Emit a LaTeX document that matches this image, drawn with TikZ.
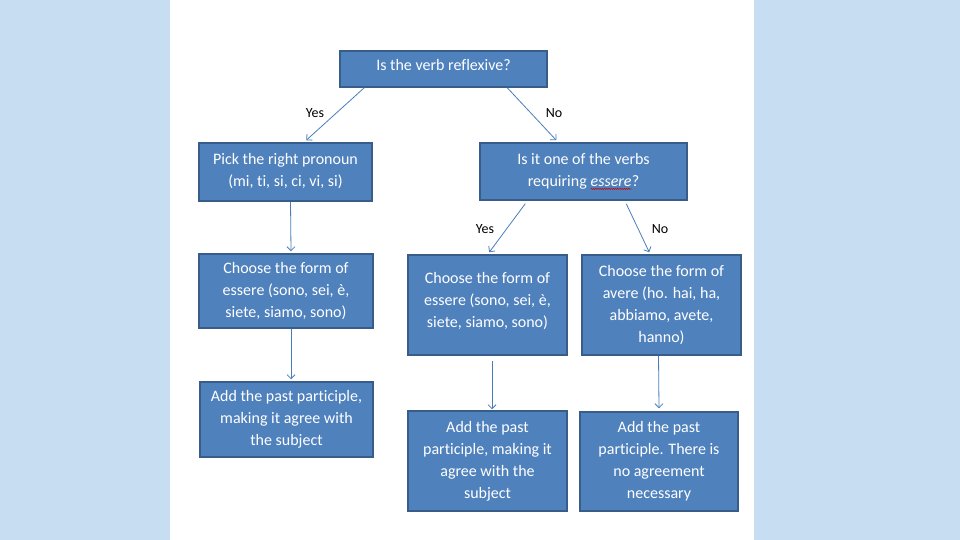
\documentclass[tikz,border=0pt]{standalone}
\usepackage{fontspec}
\setmainfont{Carlito}[Ligatures={NoCommon}]
\usetikzlibrary{arrows.meta,decorations.pathmorphing}
\definecolor{bgblue}{RGB}{198,221,242}
\definecolor{boxfill}{RGB}{79,129,189}
\definecolor{boxline}{RGB}{56,93,138}
\definecolor{conn}{RGB}{74,126,187}
\newcommand{\spellmark}[1]{\tikz[baseline=(w.base)]{\node[inner sep=0pt,outer sep=0pt,minimum width=0pt,minimum height=0pt,draw=none,fill=none,text=white](w){#1};\draw[red!80!black,line width=0.5pt,decorate,decoration={snake,amplitude=0.6pt,segment length=2.2pt}]([yshift=-2.5pt]w.base west)--([yshift=-2.5pt]w.base east);}}
\begin{document}
\begin{tikzpicture}[x=1pt,y=-1pt,
  box/.style={draw=boxline,line width=1.5pt,fill=boxfill,text=white,
    font=\fontsize{16}{22}\selectfont,align=center,inner sep=0pt},
  conn/.style={draw=conn,line width=0.8pt,-{Straight Barb[length=4pt,width=8pt]}},
  lbl/.style={font=\fontsize{14}{16}\selectfont,text=black,inner sep=0pt}]
\useasboundingbox (0,0) rectangle (960,540);
\fill[bgblue] (0,0) rectangle (960,540);
\fill[white] (170,0) rectangle (754,540);

\node[box,minimum width=207pt,minimum height=36pt] (top) at (443.5,69) {Is the verb reflexive?\\[-14pt]};
\node[box,minimum width=173pt,minimum height=58pt] (pick) at (285.5,172) {Pick the right pronoun\\(mi, ti, si, ci, vi, si)\\[-18pt]};
\node[box,minimum width=207pt,minimum height=57pt] (isit) at (583.5,171.5) {Is it one of the verbs\\requiring \spellmark{\textit{essere}}?};
\node[box,minimum width=174pt,minimum height=74pt] (ch1) at (286,291) {Choose the form of\\essere (sono, sei, è,\\siete, siamo, sono)};
\node[box,minimum width=159pt,minimum height=100pt] (ch2) at (487.5,305) {Choose the form of\\essere (sono, sei, è,\\siete, siamo, sono)\\[-11pt]};
\node[box,minimum width=159pt,minimum height=100pt] (ch3) at (661.5,305) {Choose the form of\\avere (ho. hai, ha,\\abbiamo, avete,\\hanno)};
\node[box,minimum width=173pt,minimum height=75pt] (add1) at (286.5,419.5) {Add the past participle,\\making it agree with\\the subject};
\node[box,minimum width=159pt,minimum height=100pt] (add2) at (487.5,461) {Add the past\\participle, making it\\agree with the\\subject};
\node[box,minimum width=158pt,minimum height=99pt] (add3) at (659,461.5) {Add the past\\participle. There is\\no agreement\\necessary};

\draw[conn] ([xshift=25pt]top.south west) -- ([xshift=108pt,yshift=2pt]pick.north west);
\draw[conn] ([xshift=168pt]top.south west) -- ([xshift=77pt,yshift=2pt]isit.north west);
\node[lbl] (yes1) at (315,113) {Yes};
\node[lbl] (no1) at (554,113) {No};

\draw[conn] ([xshift=46pt,yshift=-3pt]isit.south west) -- ([xshift=82pt,yshift=2pt]ch2.north west);
\draw[conn] ([xshift=147pt,yshift=-3pt]isit.south west) -- ([xshift=68pt,yshift=2pt]ch3.north west);
\node[lbl] (yes2) at (485,229) {Yes};
\node[lbl] (no2) at (660,229) {No};

\draw[conn] ([xshift=5pt]pick.south) -- ([xshift=5pt,yshift=2pt]ch1.north);
\draw[conn] ([xshift=5pt]ch1.south) -- ([xshift=4.5pt,yshift=2pt]add1.north);
\draw[conn] ([xshift=4.5pt,yshift=-5pt]ch2.south) -- ([xshift=4.5pt,yshift=1pt]add2.north);
\draw[conn] ([xshift=-3pt]ch3.south) -- ([yshift=3pt]add3.north);
\end{tikzpicture}
\end{document}
